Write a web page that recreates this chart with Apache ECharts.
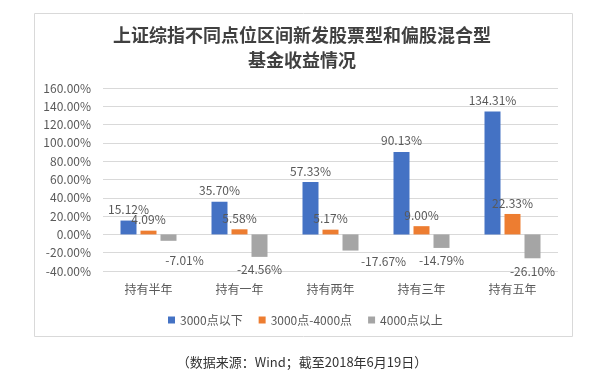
<!DOCTYPE html>
<html>
<head>
<meta charset="utf-8">
<script src="https://cdn.jsdelivr.net/npm/echarts@6/dist/echarts.min.js"></script>
<style>
  html, body { margin: 0; padding: 0; background: #fff; }
  #chart { width: 592px; height: 377px; }
</style>
</head>
<body>
<div id="chart"></div>
<script>
// 类目与数据（单位：%）
const categories = ['持有半年', '持有一年', '持有两年', '持有三年', '持有五年']
const seriesNames = ['3000点以下', '3000点-4000点', '4000点以上']
const below3000 = [15.12, 35.70, 57.33, 90.13, 134.31]
const between3000and4000 = [4.09, 5.58, 5.17, 9.00, 22.33]
const above4000 = [-7.01, -24.56, -17.67, -14.79, -26.10]
const colors = ['#4472C4', '#ED7D31', '#A5A5A5']

const textColor = '#595959'
const fontFamily = '"Noto Sans CJK SC", "Noto Sans", sans-serif'

// Excel 里有两个负值标签被挪开了，这里手动微调
const labelNudge = { 0: [16, 7], 2: [33, -2] }

function makeSeries (name, values, color, isNeg) {
  return {
    name,
    type: 'bar',
    barWidth: 16,
    barGap: '25%',
    itemStyle: { color },
    data: values.map((v, i) => {
      const item = { value: v }
      if (isNeg && labelNudge[i]) {
        item.label = { offset: labelNudge[i] }
      }
      return item
    }),
    label: {
      show: true,
      position: isNeg ? 'bottom' : 'top',
      distance: isNeg ? 7 : 5,
      color: textColor,
      fontSize: 12,
      fontFamily,
      formatter: p => p.value.toFixed(2) + '%'
    }
  }
}

const chart = echarts.init(document.getElementById('chart'))
chart.setOption({
  animation: false,
  graphic: [
    {
      type: 'rect',
      shape: { x: 34.5, y: 13.5, width: 538, height: 323 },
      style: { fill: 'none', stroke: '#d9d9d9', lineWidth: 1 },
      silent: true
    },
    {
      type: 'text',
      style: {
        x: 302, y: 35,
        text: '上证综指不同点位区间新发股票型和偏股混合型',
        textAlign: 'center', textVerticalAlign: 'middle',
        fill: '#404040', font: 'bold 18px ' + fontFamily
      }
    },
    {
      type: 'text',
      style: {
        x: 302, y: 60,
        text: '基金收益情况',
        textAlign: 'center', textVerticalAlign: 'middle',
        fill: '#404040', font: 'bold 18px ' + fontFamily
      }
    },
    {
      type: 'text',
      style: {
        x: 302, y: 362,
        text: '（数据来源：Wind；截至2018年6月19日）',
        textAlign: 'center', textVerticalAlign: 'middle',
        fill: '#333333', font: '13px ' + fontFamily
      }
    }
  ],
  legend: {
    data: seriesNames,
    left: 163,
    top: 309,
    icon: 'rect',
    itemWidth: 7,
    itemHeight: 7,
    itemGap: 16,
    textStyle: { color: textColor, fontSize: 12, fontFamily }
  },
  grid: {
    left: 103,
    right: 34,
    top: 88,
    bottom: 106
  },
  xAxis: {
    type: 'category',
    data: categories,
    axisLine: { show: false, onZero: false },
    axisTick: { show: false },
    axisLabel: { color: textColor, fontSize: 12, fontFamily, margin: 12 }
  },
  yAxis: {
    type: 'value',
    min: -40,
    max: 160,
    interval: 20,
    axisLine: { show: false },
    axisTick: { show: false },
    splitLine: { lineStyle: { color: '#d9d9d9' } },
    axisLabel: {
      color: textColor,
      fontSize: 12,
      fontFamily,
      margin: 12,
      formatter: v => v.toFixed(2) + '%'
    }
  },
  series: [
    makeSeries(seriesNames[0], below3000, colors[0], false),
    makeSeries(seriesNames[1], between3000and4000, colors[1], false),
    makeSeries(seriesNames[2], above4000, colors[2], true)
  ]
})
</script>
</body>
</html>
